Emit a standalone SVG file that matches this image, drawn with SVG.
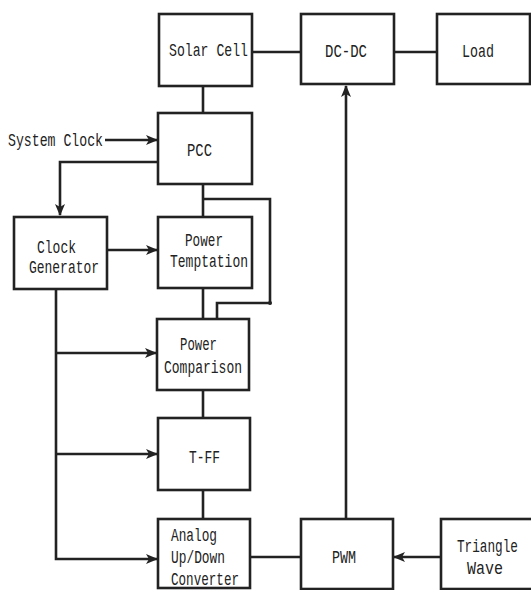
<svg xmlns="http://www.w3.org/2000/svg" width="531" height="590" viewBox="0 0 531 590">
<style>
.box{fill:#fff;stroke:#222;stroke-width:2.6}
.ln{fill:none;stroke:#222;stroke-width:2.6}
.t{font-family:"Liberation Mono",monospace;font-size:18px;fill:#222}
</style>
<defs>
<marker id="ah" viewBox="0 0 12 10" refX="11" refY="5" markerWidth="12" markerHeight="10" markerUnits="userSpaceOnUse" orient="auto">
<path d="M0,0 L12,5 L0,10 L3,5 Z" fill="#222"/>
</marker>
</defs>
<rect width="531" height="590" fill="#fff"/>
<g id="connectors">
<line class="ln" x1="252" y1="52" x2="301" y2="52"/>
<line class="ln" x1="394" y1="52" x2="437" y2="52"/>
<line class="ln" x1="203" y1="86" x2="203" y2="113"/>
<line class="ln" x1="105" y1="140" x2="157" y2="140" marker-end="url(#ah)"/>
<polyline class="ln" points="158,162 60,162 60,215" marker-end="url(#ah)"/>
<line class="ln" x1="107" y1="250" x2="157" y2="250" marker-end="url(#ah)"/>
<line class="ln" x1="203" y1="184" x2="203" y2="217"/>
<polyline class="ln" points="203,199 270,199 270,303 217,303 217,319"/>
<circle cx="270" cy="303" r="2" fill="#222"/>
<line class="ln" x1="203" y1="288" x2="203" y2="319"/>
<polyline class="ln" points="56,289 56,559 157,559" marker-end="url(#ah)"/>
<line class="ln" x1="56" y1="353" x2="156" y2="353" marker-end="url(#ah)"/>
<line class="ln" x1="56" y1="454" x2="157" y2="454" marker-end="url(#ah)"/>
<line class="ln" x1="203" y1="390" x2="203" y2="418"/>
<line class="ln" x1="203" y1="490" x2="203" y2="519"/>
<line class="ln" x1="250" y1="557" x2="301" y2="557"/>
<line class="ln" x1="346" y1="519" x2="346" y2="86" marker-end="url(#ah)"/>
<line class="ln" x1="441" y1="557" x2="394" y2="557" marker-end="url(#ah)"/>
</g>
<text class="t" x="8" y="146" textLength="95" lengthAdjust="spacingAndGlyphs">System Clock</text>
<g id="solar-cell"><rect class="box" x="159" y="14" width="93" height="72"/><text class="t" x="169" y="56" textLength="79" lengthAdjust="spacingAndGlyphs">Solar Cell</text></g>
<g id="dc-dc"><rect class="box" x="301" y="14" width="93" height="70"/><text class="t" x="325" y="57" textLength="42" lengthAdjust="spacingAndGlyphs">DC-DC</text></g>
<g id="load"><rect class="box" x="437" y="14" width="93" height="70"/><text class="t" x="462" y="57" textLength="32" lengthAdjust="spacingAndGlyphs">Load</text></g>
<g id="pcc"><rect class="box" x="158" y="113" width="94" height="71"/><text class="t" x="187" y="156" textLength="25" lengthAdjust="spacingAndGlyphs">PCC</text></g>
<g id="clock-generator"><rect class="box" x="14" y="217" width="93" height="72"/><text class="t" x="37" y="253" textLength="39" lengthAdjust="spacingAndGlyphs">Clock</text><text class="t" x="29" y="273" textLength="70" lengthAdjust="spacingAndGlyphs">Generator</text></g>
<g id="power-temptation"><rect class="box" x="158" y="217" width="94" height="71"/><text class="t" x="185" y="246" textLength="38" lengthAdjust="spacingAndGlyphs">Power</text><text class="t" x="170" y="267" textLength="78" lengthAdjust="spacingAndGlyphs">Temptation</text></g>
<g id="power-comparison"><rect class="box" x="157" y="319" width="92" height="71"/><text class="t" x="180" y="350" textLength="37" lengthAdjust="spacingAndGlyphs">Power</text><text class="t" x="164" y="373" textLength="78" lengthAdjust="spacingAndGlyphs">Comparison</text></g>
<g id="t-ff"><rect class="box" x="158" y="418" width="92" height="72"/><text class="t" x="189" y="463" textLength="31" lengthAdjust="spacingAndGlyphs">T-FF</text></g>
<g id="analog-converter"><rect class="box" x="158" y="519" width="92" height="69"/><text class="t" x="171" y="541" textLength="46" lengthAdjust="spacingAndGlyphs">Analog</text><text class="t" x="171" y="563" textLength="54" lengthAdjust="spacingAndGlyphs">Up/Down</text><text class="t" x="171" y="585" textLength="68" lengthAdjust="spacingAndGlyphs">Converter</text></g>
<g id="pwm"><rect class="box" x="301" y="519" width="92" height="70"/><text class="t" x="332" y="563" textLength="24" lengthAdjust="spacingAndGlyphs">PWM</text></g>
<g id="triangle-wave"><rect class="box" x="441" y="519" width="95" height="70"/><text class="t" x="457" y="552" textLength="61" lengthAdjust="spacingAndGlyphs">Triangle</text><text class="t" x="467" y="574" textLength="36" lengthAdjust="spacingAndGlyphs">Wave</text></g>
</svg>
